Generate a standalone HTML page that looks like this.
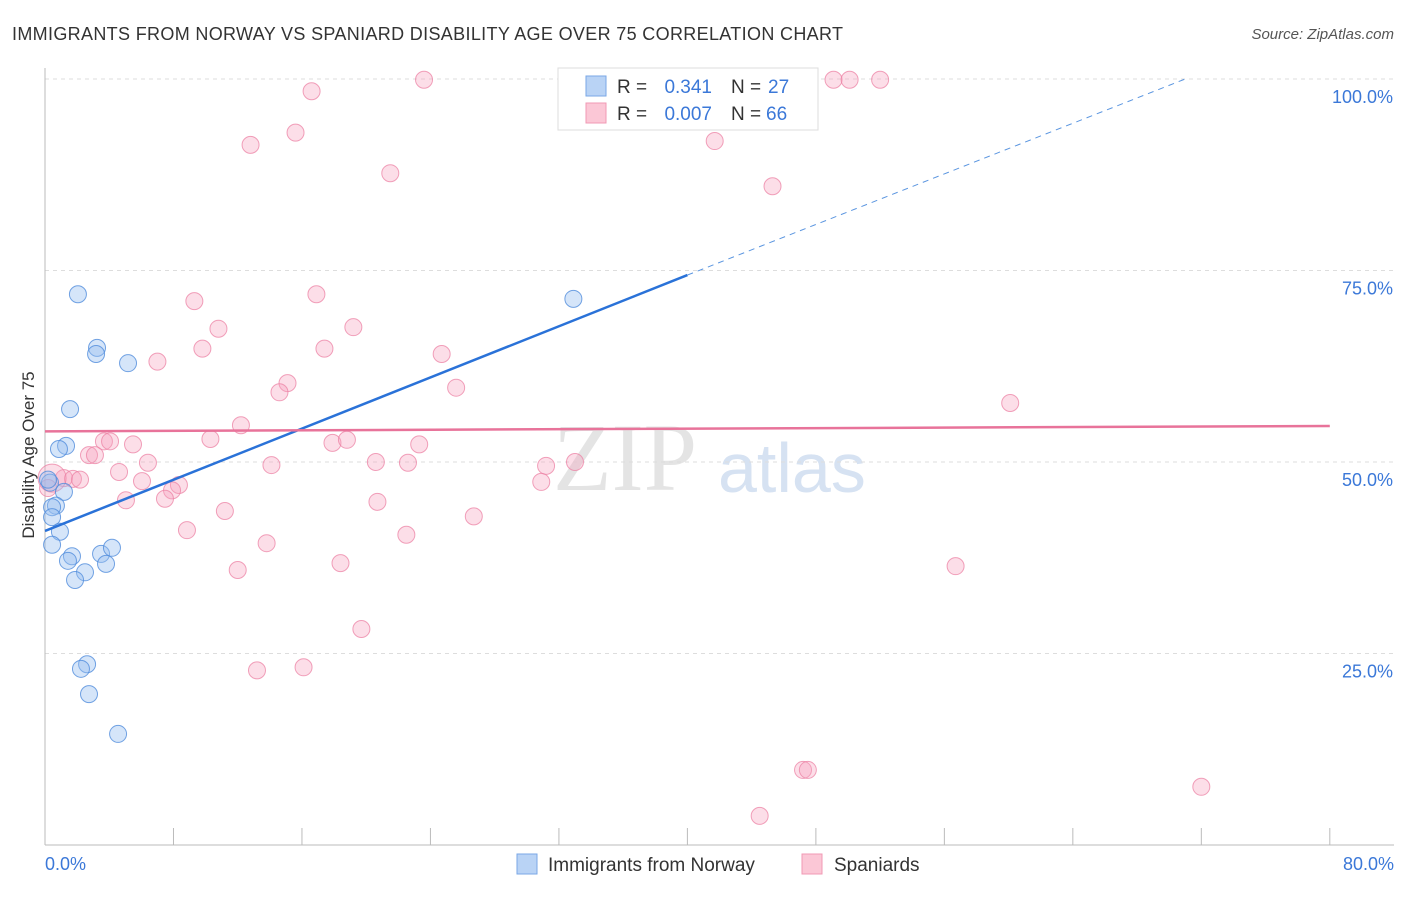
<!DOCTYPE html>
<html><head><meta charset="utf-8"><style>
body{margin:0;background:#fff;font-family:"Liberation Sans",sans-serif}
svg text{font-family:"Liberation Sans",sans-serif}
</style></head><body>
<svg id="chart" width="1406" height="892">
<text x="12" y="40" font-size="18" fill="#333" textLength="831">IMMIGRANTS FROM NORWAY VS SPANIARD DISABILITY AGE OVER 75 CORRELATION CHART</text>
<text x="1394" y="39" font-size="15" fill="#555" text-anchor="end" font-style="italic">Source: ZipAtlas.com</text>
<text x="553" y="490" font-size="96" fill="#e4e4e4" style="font-family:'Liberation Serif',serif">ZIP</text>
<text x="718" y="492" font-size="70" fill="#d6e2f2">atlas</text>
<g id="grid"></g><g id="axes"></g><g id="pts"></g><g id="lines"></g>
<text x="34" y="455" font-size="17" fill="#333" text-anchor="middle" transform="rotate(-90 34 455)">Disability Age Over 75</text>
<text x="45" y="870" font-size="18" fill="#3b78d8">0.0%</text>
<text x="1394" y="870" font-size="18" fill="#3b78d8" text-anchor="end">80.0%</text>
<g>
<rect x="558" y="68" width="260" height="62" fill="#fff" stroke="#ddd"/>
<rect x="586" y="76" width="20" height="20" fill="#b9d3f5" stroke="#7aa7e6"/>
<rect x="586" y="103" width="20" height="20" fill="#fbc7d6" stroke="#f09ab4"/>
<text x="617" y="93" font-size="19" fill="#333">R =</text>
<text x="712" y="93" font-size="19" fill="#3b78d8" text-anchor="end">0.341</text>
<text x="731" y="93" font-size="19" fill="#333">N =</text>
<text x="768" y="93" font-size="19" fill="#3b78d8">27</text>
<text x="617" y="120" font-size="19" fill="#333">R =</text>
<text x="712" y="120" font-size="19" fill="#3b78d8" text-anchor="end">0.007</text>
<text x="731" y="120" font-size="19" fill="#333">N =</text>
<text x="766" y="120" font-size="19" fill="#3b78d8">66</text>
</g>
<g>
<rect x="517" y="854" width="20" height="20" fill="#b9d3f5" stroke="#7aa7e6"/>
<text x="548" y="871" font-size="19" fill="#333">Immigrants from Norway</text>
<rect x="802" y="854" width="20" height="20" fill="#fbc7d6" stroke="#f09ab4"/>
<text x="834" y="871" font-size="19" fill="#333">Spaniards</text>
</g>
</svg>
<script>
const yTicks=[25,50,75,100];
const xTickCount=10;
const blueX=[2.05,3.24,3.18,5.17,1.56,1.31,0.87,1.18,0.31,0.68,0.44,0.44,0.93,0.44,1.68,1.43,3.49,4.17,3.80,2.49,1.87,2.62,2.24,2.74,4.55,32.9,0.19];
const blueY=[71.9,64.9,64.1,62.9,56.9,52.1,51.7,46.1,47.3,44.3,44.1,42.8,40.9,39.2,37.7,37.1,38.0,38.8,36.7,35.6,34.6,23.6,23.0,19.7,14.5,71.3,47.7];
const pinkX=[16.6,23.6,15.6,12.8,21.5,41.7,45.3,49.1,50.1,52.0,9.3,16.9,10.8,19.2,9.8,17.4,24.7,7.0,15.1,14.6,25.6,60.1,12.2,3.67,4.05,5.48,10.3,17.9,18.8,23.3,2.74,3.11,6.41,14.1,20.6,22.6,31.2,33.0,4.61,1.18,1.74,2.18,6.04,8.34,7.91,7.47,5.04,30.9,20.7,11.2,26.7,8.84,22.5,13.8,12.0,18.4,56.7,19.7,16.1,13.2,47.2,47.5,44.5,72.0,0.44,0.19];
const pinkY=[98.4,99.9,93.0,91.4,87.7,91.9,86.0,99.9,99.9,99.9,71.0,71.9,67.4,67.6,64.8,64.8,64.1,63.1,60.3,59.1,59.7,57.7,54.8,52.7,52.7,52.3,53.0,52.5,52.9,52.3,50.9,50.9,49.9,49.6,50.0,49.9,49.5,50.0,48.7,47.9,47.8,47.7,47.5,47.0,46.3,45.2,45.0,47.4,44.8,43.6,42.9,41.1,40.5,39.4,35.9,36.8,36.4,28.2,23.2,22.8,9.8,9.8,3.8,7.6,47.9,46.6];
const blueFit=[41.0,74.4,100];const blueFitX=[0,40,71];
const pinkFit=[54.0,54.7];
const NS="http://www.w3.org/2000/svg";
const X=v=>45+v*16.06, Y=v=>845-v*7.66;
function mk(t,a,p){const e=document.createElementNS(NS,t);for(const k in a)e.setAttribute(k,a[k]);p.appendChild(e);return e;}
const grid=document.getElementById('grid'),axes=document.getElementById('axes'),pts=document.getElementById('pts'),lines=document.getElementById('lines');
yTicks.forEach(t=>{
 const l=mk('line',{x1:45,x2:1394,y1:Y(t),y2:Y(t),stroke:'#ddd','stroke-dasharray':'4,4'},grid);
 
 
 const tx=mk('text',{x:1393,y:Y(t)+24,'font-size':18,fill:'#3b78d8','text-anchor':'end'},grid);
 tx.textContent=t.toFixed(1)+'%';
 
 
});
const ya=mk('line',{x1:45,x2:45,y1:68,y2:845,stroke:'#bbb'},axes);


const xa=mk('line',{x1:45,x2:1394,y1:845,y2:845,stroke:'#bbb'},axes);


for(let i=1;i<=xTickCount;i++){const v=i*8;
 const t=mk('line',{x1:X(v),x2:X(v),y1:828,y2:845,stroke:'#bbb'},axes);
 
 
}
pinkX.forEach((x,i)=>{
 const c=mk('circle',{cx:X(x),cy:Y(pinkY[i]),r:i==64?14:8.5,fill:'rgba(246,160,188,0.35)',stroke:'rgba(236,130,164,0.75)','stroke-width':1},pts);
 
 
});
blueX.forEach((x,i)=>{
 const c=mk('circle',{cx:X(x),cy:Y(blueY[i]),r:8.5,fill:'rgba(150,190,240,0.4)',stroke:'rgba(80,140,220,0.8)','stroke-width':1},pts);
 
 
});
const b1=mk('line',{x1:X(blueFitX[0]),y1:Y(blueFit[0]),x2:X(blueFitX[1]),y2:Y(blueFit[1]),stroke:'#2a72d8','stroke-width':2.5},lines);


const b2=mk('line',{x1:X(blueFitX[1]),y1:Y(blueFit[1]),x2:X(blueFitX[2]),y2:Y(blueFit[2]),stroke:'#5a95e0','stroke-width':1,'stroke-dasharray':'6,5'},lines);


const p1=mk('line',{x1:X(0),y1:Y(pinkFit[0]),x2:X(80),y2:Y(pinkFit[1]),stroke:'#e8739a','stroke-width':2.5},lines);


</script>
</body></html>
